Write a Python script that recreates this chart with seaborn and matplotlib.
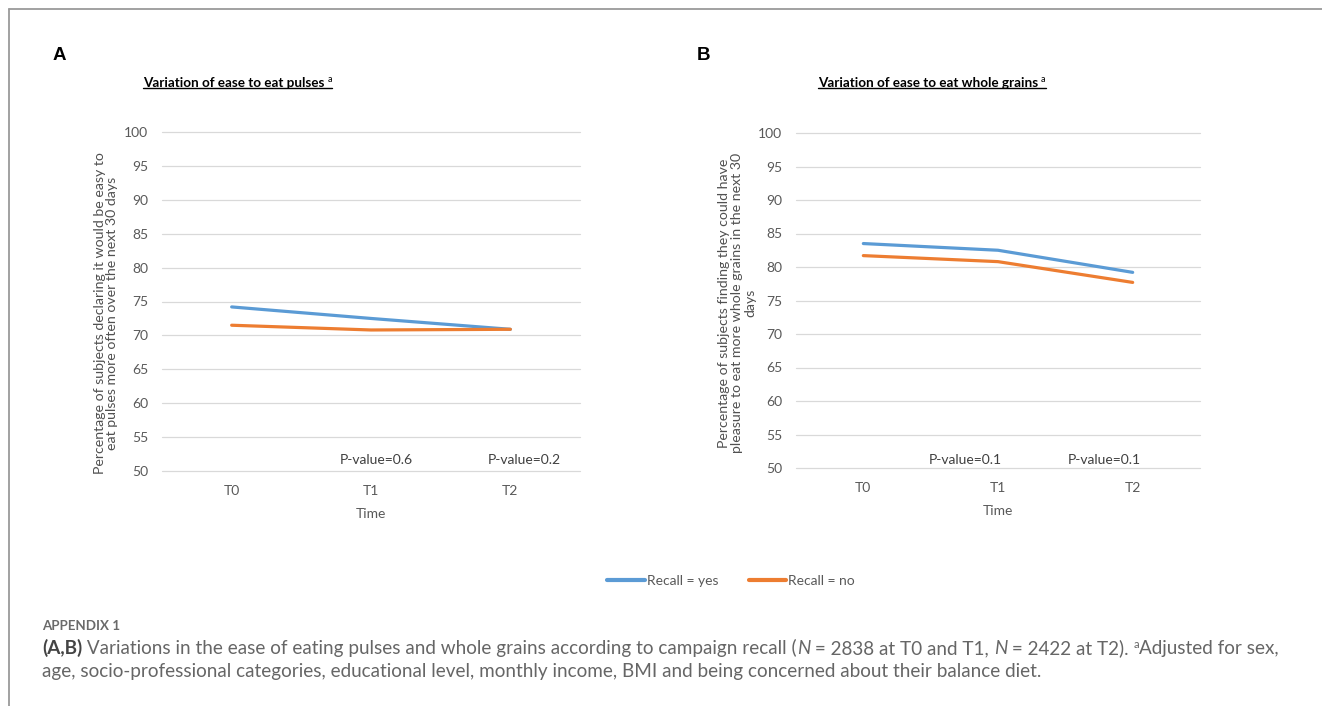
import matplotlib
matplotlib.use("Agg")
import matplotlib.pyplot as plt
import seaborn as sns
import pandas as pd
from matplotlib.lines import Line2D
from matplotlib.font_manager import FontProperties

# ---------------- data ----------------
times = ["T0", "T1", "T2"]
recall_groups = ["Recall = yes", "Recall = no"]
pulses_yes = [74.2, 72.5, 70.9]
pulses_no = [71.5, 70.8, 70.9]
grains_yes = [83.5, 82.5, 79.2]
grains_no = [81.7, 80.8, 77.7]
pulses_pvalues = ["P-value=0.6", "P-value=0.2"]
grains_pvalues = ["P-value=0.1", "P-value=0.1"]
yticks = list(range(50, 101, 5))

sns.set_theme(style="white")
plt.rcParams["font.family"] = ["Lato", "DejaVu Sans"]

W, H = 1322, 706
fig = plt.figure(figsize=(W / 100, H / 100), dpi=100)
fig.patch.set_facecolor("white")


def fx(px):
    return px / W


def fy(py):
    return 1 - py / H


palette = {recall_groups[0]: "#5B9BD5", recall_groups[1]: "#ED7D31"}
TICK_C = "#595959"

axA = fig.add_axes([fx(162), fy(471), (580 - 162) / W, (471 - 132) / H])
axB = fig.add_axes([fx(796), fy(468), (1200 - 796) / W, (468 - 133) / H])


def panel(ax, yes, no, pvals, pxs, py):
    df = pd.DataFrame({
        "Time": times * 2,
        "Value": yes + no,
        "Recall": [recall_groups[0]] * len(times) + [recall_groups[1]] * len(times),
    })
    sns.lineplot(data=df, x="Time", y="Value", hue="Recall", palette=palette,
                 linewidth=2.3, legend=False, ax=ax, sort=False)
    ax.set_ylim(50, 100)
    ax.set_xlim(-0.5, 2.5)
    ax.set_yticks(yticks)
    ax.yaxis.grid(True, color="#D9D9D9", linewidth=0.9)
    ax.xaxis.grid(False)
    for gl in ax.get_ygridlines():
        gl.set_clip_on(False)
    for s in ax.spines.values():
        s.set_visible(False)
    ax.set_facecolor("white")
    ax.tick_params(axis="both", length=0, labelsize=10, labelcolor=TICK_C)
    ax.tick_params(axis="y", pad=10)
    ax.tick_params(axis="x", pad=10)
    ax.set_xlabel("Time", fontsize=10, color=TICK_C, labelpad=8)
    ax.set_ylabel("")
    for x, t in zip(pxs, pvals):
        ax.text(x, py, t, ha="center", va="center", fontsize=10, color="#404040")


panel(axA, pulses_yes, pulses_no, pulses_pvalues, [1.04, 2.1], 51.6)
panel(axB, grains_yes, grains_no, grains_pvalues, [0.76, 1.79], 51.2)

# y labels
fig.text(fx(106), fy(313),
         "Percentage of subjects declaring it would be easy to\neat pulses more often over the next 30 days",
         rotation=90, ha="center", va="center", multialignment="center",
         fontsize=10.2, color="#505050", linespacing=1.08)
fig.text(fx(737), fy(303),
         "Percentage of subjects finding they could have\npleasure to eat more whole grains in the next 30\ndays",
         rotation=90, ha="center", va="center", multialignment="center",
         fontsize=10.2, color="#505050", linespacing=1.15)

renderer = fig.canvas.get_renderer()


def title(x_px, base_px, txt):
    t = fig.text(fx(x_px), fy(base_px), txt, fontsize=9.7, fontweight="bold",
                 color="black", ha="left", va="baseline")
    bb = t.get_window_extent(renderer)
    sup = fig.text((bb.x1 + 3) / W, fy(base_px - 5), "a", fontsize=6.5,
                   color="black", ha="left", va="baseline")
    sb = sup.get_window_extent(renderer)
    yl = (bb.y0 + 1.0) / H
    fig.add_artist(Line2D([bb.x0 / W, sb.x1 / W], [yl, yl], transform=fig.transFigure,
                          color="black", lw=1.0))


title(143, 87, "Variation of ease to eat pulses")
title(818, 87, "Variation of ease to eat whole grains")

fig.text(fx(53), fy(55), "A", fontsize=13.5, fontweight="bold", ha="left", va="center",
         family=["Liberation Sans", "DejaVu Sans"], color="black")
fig.text(fx(697), fy(55), "B", fontsize=13.5, fontweight="bold", ha="left", va="center",
         family=["Liberation Sans", "DejaVu Sans"], color="black")

# legend
handles = [Line2D([], [], color=palette[g], lw=3) for g in recall_groups]
fig.legend(handles, recall_groups, loc="center", bbox_to_anchor=(fx(731), fy(581)),
           ncol=2, frameon=False, fontsize=10, handlelength=2.7, handletextpad=0.15,
           columnspacing=2.2, labelcolor=TICK_C)

# frame
fig.add_artist(Line2D([fx(9), fx(9)], [fy(8.5), 0], transform=fig.transFigure,
                      color="#9a9a9a", lw=1.3))
fig.add_artist(Line2D([fx(9), 1], [fy(8.5), fy(8.5)], transform=fig.transFigure,
                      color="#9a9a9a", lw=1.3))

# caption
CAP_C = "#666666"
fig.text(fx(42), fy(630), "APPENDIX 1", fontsize=9.6, fontweight="bold", color="#6a6a6a",
         ha="left", va="baseline")


def adv(s, prop):
    w1, _, _ = renderer.get_text_width_height_descent(s + "|", prop, ismath=False)
    w2, _, _ = renderer.get_text_width_height_descent("|", prop, ismath=False)
    return (w1 - w2) * 1.0


line1 = [
    ("(A,B)", dict(weight="bold", color="#444444")),
    (" Variations in the ease of eating pulses and whole grains according to campaign recall (", dict()),
    ("N", dict(style="italic")),
    (" = 2838 at T0 and T1, ", dict()),
    ("N", dict(style="italic")),
    (" = 2422 at T2). ", dict()),
    ("a", dict(sup=True)),
    ("Adjusted for sex,", dict()),
]
line2 = [("age, socio-professional categories, educational level, monthly income, BMI and being concerned about their balance diet.", dict())]


def make_prop(size, kw):
    return FontProperties(family=["Lato", "DejaVu Sans"], size=size * (0.6 if kw.get("sup") else 1),
                          weight=kw.get("weight", "normal"), style=kw.get("style", "normal"))


def line_width(runs, size):
    return sum(adv(s, make_prop(size, kw)) for s, kw in runs)


base = 10.0
cap_size = base * (1275 - 42) / line_width(line1, base)


def draw_runs(x_px, base_px, runs, size):
    x = x_px
    for s, kw in runs:
        prop = make_prop(size, kw)
        yb = base_px - (size * 0.45 if kw.get("sup") else 0)
        fig.text(x / W, fy(yb), s, fontproperties=prop, color=kw.get("color", CAP_C),
                 ha="left", va="baseline")
        x += adv(s, prop)


draw_runs(42, 654, line1, cap_size)
draw_runs(42, 677, line2, cap_size)

fig.savefig("out.png", dpi=100, facecolor="white")
